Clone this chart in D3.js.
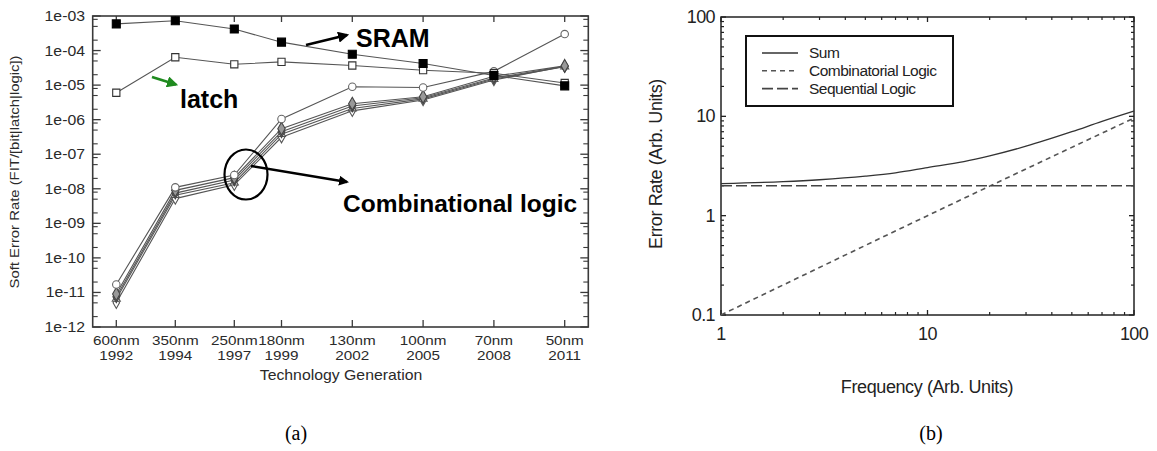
<!DOCTYPE html>
<html>
<head>
<meta charset="utf-8">
<script src="https://cdn.jsdelivr.net/npm/d3@7"></script>
<style>
  html, body { margin: 0; padding: 0; background: #fff; }
  svg { display: block; }
  text { font-family: "Liberation Sans", Arial, Helvetica, sans-serif; }
</style>
</head>
<body>
<svg id="chart" width="1157" height="451"></svg>
<script>
// ---------- Panel (a): soft error rate per technology generation ----------
const nodes = ["600nm", "350nm", "250nm", "180nm", "130nm", "100nm", "70nm", "50nm"];
const years = ["1992", "1994", "1997", "1999", "2002", "2005", "2008", "2011"];
const nodePos = [0, 2.5, 5, 7, 10, 13, 16, 19];          // abscissa of each generation
const yTickLabels = ["1e-12","1e-11","1e-10","1e-09","1e-08","1e-07","1e-06","1e-05","1e-04","1e-03"];

const sram   = [5.9e-4, 7.3e-4, 4.2e-4, 1.75e-4, 7.8e-5, 4.2e-5, 1.9e-5, 9.5e-6];
const latch  = [6.0e-6, 6.4e-5, 4.0e-5, 4.7e-5, 3.7e-5, 2.7e-5, 2.2e-5, 1.15e-5];
const logicA = [1.7e-11, 1.1e-8, 2.5e-8, 1.05e-6, 9.0e-6, 8.5e-6, 2.5e-5, 3.0e-4];
const logicB = [9.0e-12, 9.0e-9, 2.1e-8, 5.5e-7, 2.9e-6, 4.6e-6, 1.8e-5, 3.6e-5];
const logicC = [7.5e-12, 7.5e-9, 1.8e-8, 4.5e-7, 2.5e-6, 4.3e-6, 1.6e-5, 3.5e-5];
const logicD = [6.5e-12, 6.5e-9, 1.5e-8, 3.8e-7, 2.1e-6, 4.0e-6, 1.5e-5, 3.4e-5];
const logicE = [5.0e-12, 5.2e-9, 1.3e-8, 3.1e-7, 1.8e-6, 3.7e-6, 1.4e-5, 3.5e-5];

// ---------- Panel (b): error rate versus frequency ----------
const sumFreq = [1, 2, 3, 5, 7, 10, 15, 20, 30, 50, 70, 100];
const sumRate = [2.1, 2.2, 2.3, 2.5, 2.7, 3.05, 3.5, 4.0, 5.0, 7.0, 8.9, 11.3];
const combFreq = [1, 10, 100];
const combRate = [0.1, 1.0, 9.6];
const seqFreq = [1, 100];
const seqRate = [2, 2];
const bYTicks = [0.1, 1, 10, 100];
const bXTicks = [1, 10, 100];
const legendNames = ["Sum", "Combinatorial Logic", "Sequential Logic"];

const svg = d3.select("#chart");
svg.append("rect").attr("width", 1157).attr("height", 451).attr("fill", "#fff");

// ===== Panel (a) =====
const ax = d3.scaleLinear().domain([-1, 20]).range([92.7, 588.3]);
const ay = d3.scaleLog().domain([1e-12, 1e-3]).range([327, 16]);
const ga = svg.append("g");
const axisCol = "#3a3a3a", textCol = "#2a2a2a";

// wide-set label text (horizontally stretched sans face)
function wideText(g, x, y, str, size, anchor) {
  return g.append("text").attr("transform", `translate(${x},${y}) scale(1.13,1)`)
    .attr("text-anchor", anchor).attr("font-size", size).attr("fill", textCol).text(str);
}

// major / minor y ticks, both sides, pointing inward
const decades = d3.range(-12, -2);
decades.forEach(e => {
  const v = Math.pow(10, e);
  [[ax.range()[0], 8], [ax.range()[1], -8]].forEach(([x0, len]) => {
    ga.append("line").attr("x1", x0).attr("x2", x0 + len)
      .attr("y1", ay(v)).attr("y2", ay(v)).attr("stroke", axisCol).attr("stroke-width", 1.3);
  });
});
decades.slice(0, -1).forEach(e => {
  [2, 5, 8].forEach(m => {
    const v = m * Math.pow(10, e);
    [[ax.range()[0], 5], [ax.range()[1], -5]].forEach(([x0, len]) => {
      ga.append("line").attr("x1", x0).attr("x2", x0 + len)
        .attr("y1", ay(v)).attr("y2", ay(v)).attr("stroke", axisCol).attr("stroke-width", 1.1);
    });
  });
});
// x ticks at every generation, bottom and top
nodePos.forEach(p => {
  ga.append("line").attr("x1", ax(p)).attr("x2", ax(p)).attr("y1", ay.range()[0]).attr("y2", ay.range()[0] - 7)
    .attr("stroke", axisCol).attr("stroke-width", 1.3);
  ga.append("line").attr("x1", ax(p)).attr("x2", ax(p)).attr("y1", ay.range()[1]).attr("y2", ay.range()[1] + 6)
    .attr("stroke", axisCol).attr("stroke-width", 1.3);
});
// frame
ga.append("rect").attr("x", ax.range()[0]).attr("y", ay.range()[1])
  .attr("width", ax.range()[1] - ax.range()[0]).attr("height", ay.range()[0] - ay.range()[1])
  .attr("fill", "none").attr("stroke", axisCol).attr("stroke-width", 1.6);

// tick labels
yTickLabels.forEach((t, i) => {
  wideText(ga, 85, ay(Math.pow(10, -12 + i)) + 5, t, 14, "end");
});
nodes.forEach((n, i) => {
  wideText(ga, ax(nodePos[i]), 344.5, n, 13.5, "middle");
  wideText(ga, ax(nodePos[i]), 359.5, years[i], 13.5, "middle");
});
wideText(ga, 341, 380, "Technology Generation", 14, "middle");
ga.append("text").attr("transform", "translate(19,172) rotate(-90) scale(1.1,1)").attr("text-anchor", "middle")
  .attr("font-size", 13.5).attr("fill", textCol).text("Soft Error Rate (FIT/[bit|latch|logic])");

// series
const lineA = d3.line().x((d, i) => ax(nodePos[i])).y(d => ay(d));
const seriesA = [
  { vals: logicE, sym: d3.symbolDiamond, size: 36, fill: "#fff", stroke: "#555" },
  { vals: logicD, sym: d3.symbolTriangle, size: 28, fill: "#fff", stroke: "#555" },
  { vals: logicC, sym: d3.symbolDiamond, size: 40, fill: "#888", stroke: "#444" },
  { vals: logicB, sym: d3.symbolDiamond, size: 48, fill: "#999", stroke: "#444" },
  { vals: logicA, sym: d3.symbolCircle, size: 44, fill: "#fff", stroke: "#666" },
  { vals: latch, sym: d3.symbolSquare, size: 52, fill: "#fff", stroke: "#333" },
  { vals: sram, sym: d3.symbolSquare, size: 64, fill: "#000", stroke: "#000" }
];
seriesA.forEach(s => {
  ga.append("path").attr("d", lineA(s.vals)).attr("fill", "none")
    .attr("stroke", "#555").attr("stroke-width", 1.1);
});
seriesA.forEach(s => {
  ga.selectAll(null).data(s.vals).join("path")
    .attr("transform", (d, i) => `translate(${ax(nodePos[i])},${ay(d)})`)
    .attr("d", d3.symbol().type(s.sym).size(s.size))
    .attr("fill", s.fill).attr("stroke", s.stroke).attr("stroke-width", 1.1);
});

// annotations
const defs = svg.append("defs");
function marker(id, col) {
  defs.append("marker").attr("id", id).attr("viewBox", "0 0 10 10").attr("refX", 8).attr("refY", 5)
    .attr("markerWidth", 4).attr("markerHeight", 4).attr("orient", "auto")
    .append("path").attr("d", "M0,0 L10,5 L0,10 z").attr("fill", col);
}
marker("arrK", "#000");
marker("arrG", "#1f8a1f");
ga.append("line").attr("x1", 306).attr("y1", 45).attr("x2", 347).attr("y2", 35)
  .attr("stroke", "#000").attr("stroke-width", 2.8).attr("marker-end", "url(#arrK)");
ga.append("text").attr("x", 356).attr("y", 47).attr("font-size", 25).attr("font-weight", "bold").text("SRAM");
ga.append("line").attr("x1", 152).attr("y1", 77).attr("x2", 176).attr("y2", 84.5)
  .attr("stroke", "#1f8a1f").attr("stroke-width", 2.8).attr("marker-end", "url(#arrG)");
ga.append("text").attr("x", 180).attr("y", 108).attr("font-size", 25).attr("font-weight", "bold").text("latch");
ga.append("ellipse").attr("cx", 246).attr("cy", 174.5).attr("rx", 21.5).attr("ry", 25)
  .attr("fill", "none").attr("stroke", "#000").attr("stroke-width", 2.2);
ga.append("line").attr("x1", 251).attr("y1", 166).attr("x2", 347).attr("y2", 182)
  .attr("stroke", "#000").attr("stroke-width", 2.5).attr("marker-end", "url(#arrK)");
ga.append("text").attr("x", 343).attr("y", 212).attr("font-size", 24.5).attr("font-weight", "bold")
  .text("Combinational logic");

// ===== Panel (b) =====
const bx = d3.scaleLog().domain([1, 100]).range([721, 1134]);
const by = d3.scaleLog().domain([0.1, 100]).range([315, 17]);
const gb = svg.append("g");
const bCol = "#222";

// inward ticks on all four sides
const xMinor = [];
[1, 10].forEach(b => d3.range(2, 10).forEach(m => xMinor.push(b * m)));
const yMinor = [];
[0.1, 1, 10].forEach(b => d3.range(2, 10).forEach(m => yMinor.push(b * m)));
xMinor.forEach(v => {
  gb.append("line").attr("x1", bx(v)).attr("x2", bx(v)).attr("y1", 315).attr("y2", 312).attr("stroke", bCol).attr("stroke-width", 1.2);
  gb.append("line").attr("x1", bx(v)).attr("x2", bx(v)).attr("y1", 17).attr("y2", 20).attr("stroke", bCol).attr("stroke-width", 1.2);
});
yMinor.forEach(v => {
  gb.append("line").attr("x1", 721).attr("x2", 724).attr("y1", by(v)).attr("y2", by(v)).attr("stroke", bCol).attr("stroke-width", 1.2);
  gb.append("line").attr("x1", 1134).attr("x2", 1131).attr("y1", by(v)).attr("y2", by(v)).attr("stroke", bCol).attr("stroke-width", 1.2);
});
bYTicks.forEach(v => {
  gb.append("line").attr("x1", 721).attr("x2", 726).attr("y1", by(v)).attr("y2", by(v)).attr("stroke", bCol).attr("stroke-width", 1.3);
  gb.append("line").attr("x1", 1134).attr("x2", 1129).attr("y1", by(v)).attr("y2", by(v)).attr("stroke", bCol).attr("stroke-width", 1.3);
});
bXTicks.forEach(v => {
  gb.append("line").attr("x1", bx(v)).attr("x2", bx(v)).attr("y1", 315).attr("y2", 310).attr("stroke", bCol).attr("stroke-width", 1.3);
  gb.append("line").attr("x1", bx(v)).attr("x2", bx(v)).attr("y1", 17).attr("y2", 22).attr("stroke", bCol).attr("stroke-width", 1.3);
});
gb.append("rect").attr("x", 721).attr("y", 17).attr("width", 413).attr("height", 298)
  .attr("fill", "none").attr("stroke", bCol).attr("stroke-width", 1.5);

// tick labels
bYTicks.forEach(v => {
  gb.append("text").attr("x", 715).attr("y", by(v) + 6).attr("text-anchor", "end")
    .attr("font-size", 18).attr("letter-spacing", -0.6).attr("fill", bCol).text(d3.format("~g")(v));
});
bXTicks.forEach(v => {
  gb.append("text").attr("x", bx(v)).attr("y", 340).attr("text-anchor", "middle")
    .attr("font-size", 18).attr("letter-spacing", -0.6).attr("fill", bCol).text(v);
});
gb.append("text").attr("x", 927).attr("y", 393).attr("text-anchor", "middle")
  .attr("font-size", 18).attr("letter-spacing", -0.4).attr("fill", bCol).text("Frequency (Arb. Units)");
gb.append("text").attr("transform", "translate(662,164) rotate(-90)").attr("text-anchor", "middle")
  .attr("font-size", 18).attr("letter-spacing", -0.4).attr("fill", bCol).text("Error Rate (Arb. Units)");

// curves
const lineB = (fs) => d3.line().x((d, i) => bx(fs[i])).y(d => by(d)).curve(d3.curveMonotoneX);
const styles = [
  { f: sumFreq, v: sumRate, dash: null, col: "#333", w: 1.3 },
  { f: combFreq, v: combRate, dash: "5,4", col: "#555", w: 1.6 },
  { f: seqFreq, v: seqRate, dash: "11,4", col: "#444", w: 1.6 }
];
styles.forEach(s => {
  gb.append("path").attr("d", lineB(s.f)(s.v)).attr("fill", "none")
    .attr("stroke", s.col).attr("stroke-width", s.w).attr("stroke-dasharray", s.dash);
});

// legend
gb.append("rect").attr("x", 746).attr("y", 36).attr("width", 207).attr("height", 70)
  .attr("fill", "#fff").attr("stroke", "#111").attr("stroke-width", 2);
legendNames.forEach((n, i) => {
  const yy = 53 + i * 17.8;
  const s = styles[i];
  gb.append("line").attr("x1", 762).attr("x2", 798).attr("y1", yy).attr("y2", yy)
    .attr("stroke", s.col).attr("stroke-width", s.w).attr("stroke-dasharray", s.dash);
  gb.append("text").attr("x", 809).attr("y", yy + 5).attr("font-size", 15.5)
    .attr("letter-spacing", -0.5).attr("fill", bCol).text(n);
});

// captions
const serif = "'Liberation Serif', 'Times New Roman', serif";
svg.append("text").attr("x", 296).attr("y", 440).attr("text-anchor", "middle")
  .style("font-family", serif).attr("font-size", 20).text("(a)");
svg.append("text").attr("x", 931).attr("y", 440).attr("text-anchor", "middle")
  .style("font-family", serif).attr("font-size", 20).text("(b)");
</script>
</body>
</html>
